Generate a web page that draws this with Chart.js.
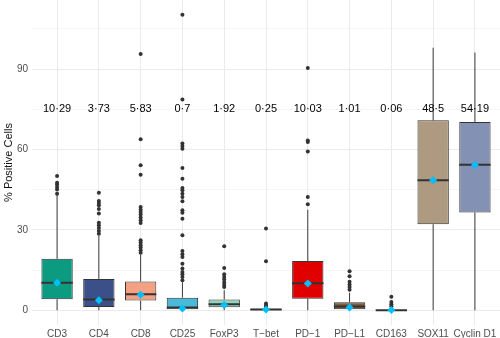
<!DOCTYPE html>
<html>
<head>
<meta charset="utf-8">
<script src="https://cdn.jsdelivr.net/npm/chart.js@4"></script>
<style>
  html, body { margin: 0; padding: 0; background: #fff; }
  canvas { display: block; }
</style>
</head>
<body>
<canvas id="chart" width="500" height="338"></canvas>
<script>
const markers = ['CD3', 'CD4', 'CD8', 'CD25', 'FoxP3', 'T\u2212bet', 'PD\u22121', 'PD\u2212L1', 'CD163', 'SOX11', 'Cyclin D1'];
const fills = ['#0c9b80', '#3b4f88', '#f3a083', '#4bbad8', '#8fd6bd', '#5a5a5a', '#e10000', '#7e5e3e', '#444444', '#ad9a80', '#8391b5'];

// box statistics per marker
const lowerWhisker = [0, 0, 0, 0, 0, 0, 0, 0, 0, 0, 0];
const q1 = [4.1, 1.2, 3.6, 0.4, 1.1, 0.1, 4.3, 0.4, 0, 32.1, 36.5];
const median = [10.3, 4.0, 6.0, 1.0, 2.2, 0.3, 10.1, 1.4, 0.05, 48.5, 54.3];
const q3 = [19.2, 11.7, 10.7, 4.7, 4.0, 0.6, 18.4, 3.0, 0.2, 70.9, 70.3];
const upperWhisker = [43.0, 27.8, 20.8, 10.5, 7.5, 1.0, 37.5, 6.5, 0.5, 98.0, 96.2];
const means = [10.29, 3.73, 5.83, 0.7, 1.92, 0.25, 10.03, 1.01, 0.06, 48.5, 54.19];

const outliers = [
  [50.1, 47.6, 46.9, 46.0, 45.1, 43.5],
  [43.9, 40.8, 40.0, 39.2, 37.8, 36.1, 32.7, 31.7, 30.7, 29.6, 28.6],
  [95.6, 63.8, 54.1, 50.6, 38.5, 37.5, 36.7, 35.7, 34.6, 33.6, 32.6, 26.1, 25.3, 24.3, 23.4, 22.4, 21.5],
  [110.3, 78.7, 62.2, 61.3, 60.3, 53.1, 49.1, 45.6, 44.8, 43.5, 42.3, 40.7, 37.3, 36.4, 34.2, 28.0, 22.1, 20.9, 19.9, 17.4, 15.6, 14.3, 13.4, 12.4, 11.2],
  [23.9, 15.8, 13.4, 12.4, 11.5, 10.4, 9.4, 8.7],
  [30.5, 18.3, 2.5, 1.9, 1.2],
  [90.4, 63.4, 62.8, 59.3, 42.3, 39.6],
  [14.6, 12.7, 10.6, 9.6, 8.7, 7.7],
  [5.0, 3.1, 2.2, 1.5],
  [],
  []
];

const labelRow = 75;
const boxHalf = 0.375;
const fmt = v => String(v).replace('.', '\u00b7');

const boxes = markers.map((m, i) => ({ x: i, y: [q1[i], q3[i]] }));

const whiskers = [];
markers.forEach((m, i) => {
  whiskers.push({ x: i, y: lowerWhisker[i] }, { x: i, y: q1[i] }, { x: i, y: null });
  whiskers.push({ x: i, y: q3[i] }, { x: i, y: upperWhisker[i] }, { x: i, y: null });
});

const medians = [];
markers.forEach((m, i) => {
  medians.push({ x: i - boxHalf, y: median[i] }, { x: i + boxHalf, y: median[i] }, { x: i, y: null });
});

const outlierPoints = [];
outliers.forEach((list, i) => list.forEach(v => outlierPoints.push({ x: i, y: v })));

const meanPoints = means.map((v, i) => ({ x: i, y: v }));

// mean value written above each box
const meanLabels = {
  id: 'meanLabels',
  afterDatasetsDraw(chart) {
    const { ctx, scales: { x, y } } = chart;
    ctx.save();
    ctx.font = '11px "Liberation Sans", Arial, sans-serif';
    ctx.fillStyle = '#000';
    ctx.textAlign = 'center';
    ctx.textBaseline = 'middle';
    means.forEach((v, i) => {
      ctx.fillText(fmt(v), x.getPixelForValue(i), y.getPixelForValue(labelRow));
    });
    ctx.restore();
  }
};

const font = { size: 10, family: '"Liberation Sans", Arial, sans-serif' };

new Chart(document.getElementById('chart'), {
  type: 'bar',
  data: {
    datasets: [
      {
        type: 'line',
        data: whiskers,
        borderColor: '#3a3a3a',
        borderWidth: 1,
        pointRadius: 0,
        pointHoverRadius: 0,
        pointBorderWidth: 0,
        spanGaps: false,
        order: 5
      },
      {
        type: 'bar',
        data: boxes,
        backgroundColor: fills,
        borderColor: '#333',
        borderWidth: 1,
        borderSkipped: false,
        barPercentage: 0.75,
        categoryPercentage: 1,
        order: 4
      },
      {
        type: 'line',
        data: medians,
        borderColor: '#333',
        borderWidth: 2,
        pointRadius: 0,
        pointHoverRadius: 0,
        pointBorderWidth: 0,
        spanGaps: false,
        order: 3
      },
      {
        type: 'scatter',
        data: outlierPoints,
        backgroundColor: '#333',
        borderWidth: 0,
        pointRadius: 2,
        pointHoverRadius: 0,
        order: 2
      },
      {
        type: 'scatter',
        data: meanPoints,
        backgroundColor: '#00bfff',
        borderWidth: 0,
        pointStyle: 'rectRot',
        pointRadius: 4,
        pointHoverRadius: 0,
        order: 1
      }
    ]
  },
  options: {
    responsive: false,
    animation: false,
    events: [],
    layout: { autoPadding: false, padding: 0 },
    plugins: {
      legend: { display: false },
      tooltip: { enabled: false }
    },
    scales: {
      x: {
        type: 'linear',
        offset: false,
        min: -0.6,
        max: 10.6,
        afterBuildTicks: axis => {
          axis.ticks = markers.map((m, i) => ({ value: i }));
        },
        afterFit: axis => {
          axis.height = 13;
          axis.paddingLeft = 0;
          axis.paddingRight = 0;
        },
        ticks: {
          autoSkip: false,
          maxRotation: 0,
          padding: 3,
          color: '#4d4d4d',
          font,
          callback: v => markers[v]
        },
        grid: { color: '#ebebeb', lineWidth: 1, drawTicks: false, offset: false },
        border: { display: false }
      },
      y: {
        type: 'linear',
        min: -5.5,
        max: 115.8,
        afterBuildTicks: axis => {
          axis.ticks = [0, 15, 30, 45, 60, 75, 90, 105].map(v => ({ value: v }));
        },
        afterFit: axis => {
          axis.width = 32;
          axis.paddingTop = 0;
          axis.paddingBottom = 0;
        },
        ticks: {
          padding: 4,
          color: '#4d4d4d',
          font,
          callback: v => (v % 30 === 0 ? v : '')
        },
        grid: {
          color: '#ebebeb',
          lineWidth: ctx => (ctx.tick && ctx.tick.value % 30 === 0 ? 1 : 0.5),
          drawTicks: false
        },
        border: { display: false },
        title: {
          display: true,
          text: '% Positive Cells',
          color: '#111',
          padding: { top: 2, bottom: 0 },
          font: { size: 11, family: font.family }
        }
      }
    }
  },
  plugins: [meanLabels]
});
</script>
</body>
</html>
